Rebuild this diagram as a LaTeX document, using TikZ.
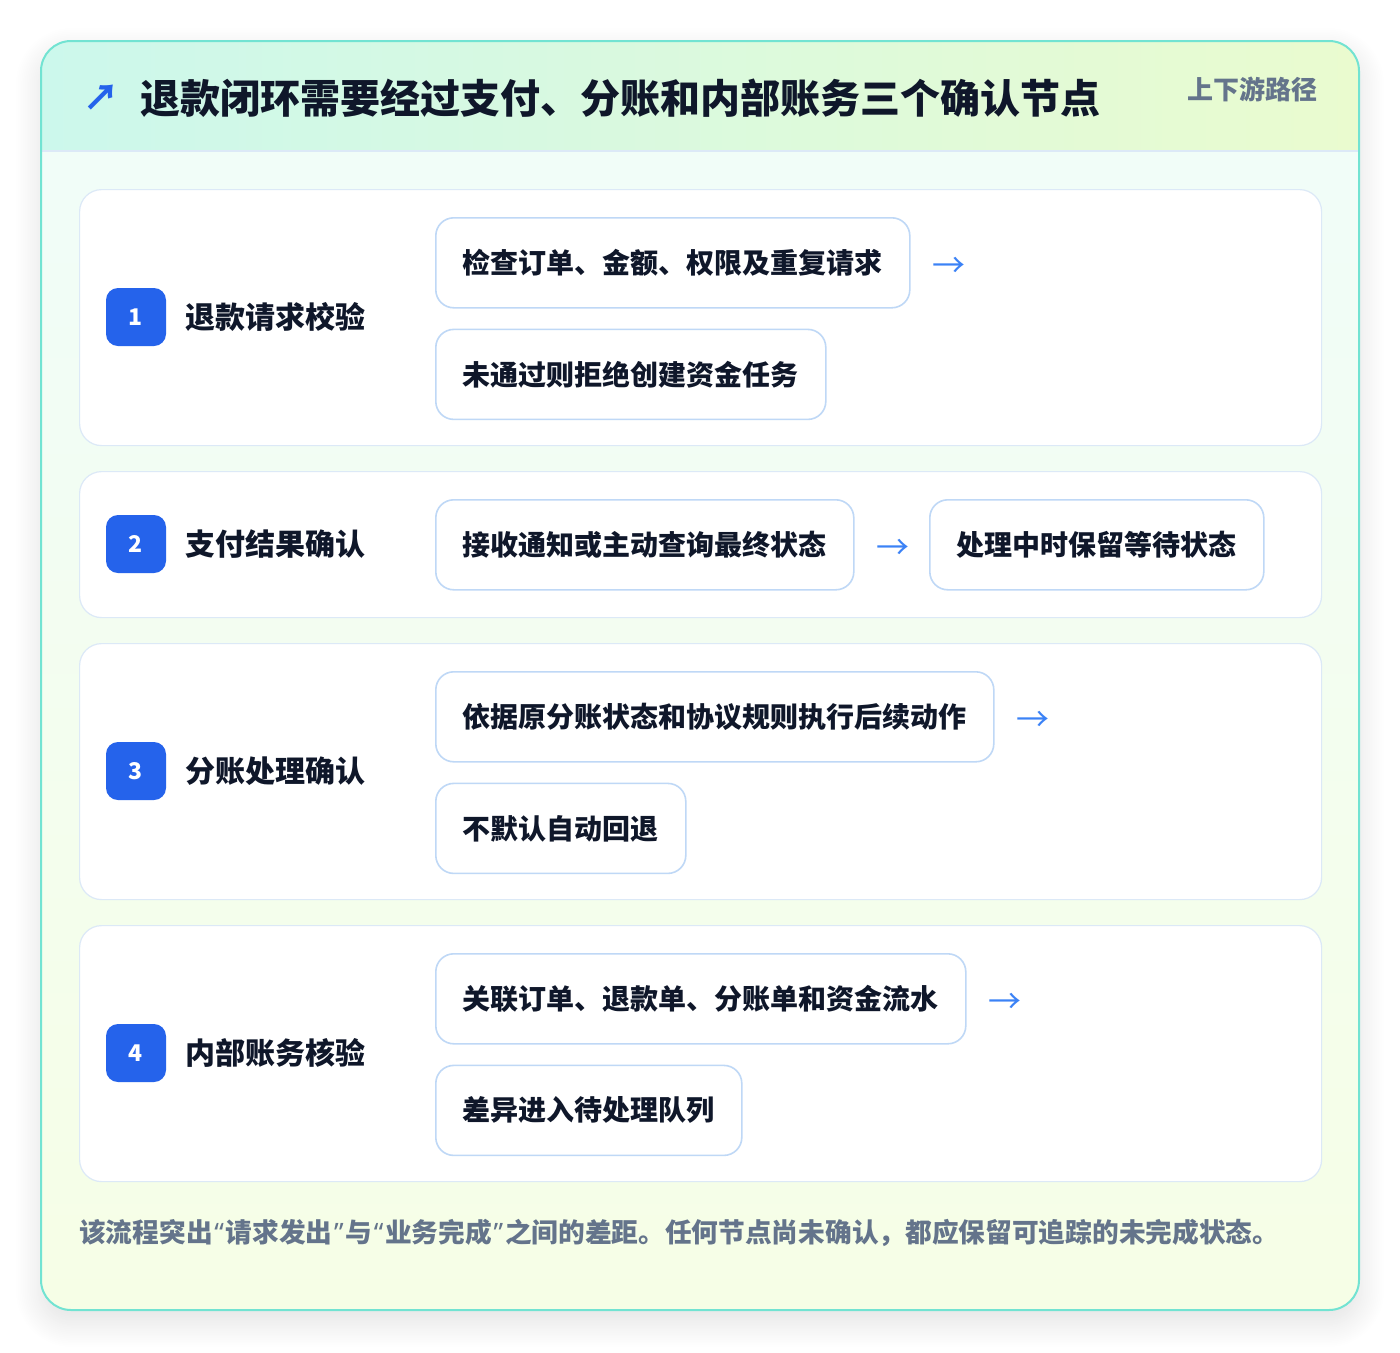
\documentclass[tikz,border=0pt]{standalone}
\usepackage{fontspec}
\newfontfamily\cjk{Noto Sans CJK SC}
\newfontfamily\latin{Noto Sans}
\usetikzlibrary{positioning}
\usetikzlibrary{shadows.blur}
\definecolor{cardline}{HTML}{72E3D2}
\definecolor{headleft}{HTML}{CCF8EC}
\definecolor{headright}{HTML}{EAFBCF}
\definecolor{bodytop}{HTML}{F0FDFA}
\definecolor{bodybottom}{HTML}{F6FEE6}
\definecolor{rowline}{HTML}{DCE9F7}
\definecolor{boxline}{HTML}{BFD8F6}
\definecolor{badgeblue}{HTML}{2563EB}
\definecolor{arrowblue}{HTML}{3B82F6}
\definecolor{ink}{HTML}{0F172A}
\definecolor{slate}{HTML}{64748B}

\begin{document}
\begin{tikzpicture}[x=1pt,y=-1pt,node distance=20pt,
	rowcard/.style={draw=rowline,line width=1.2pt,fill=white,rounded corners=22pt,minimum width=1242pt,anchor=north west,inner sep=0pt},
	badge/.style={fill=badgeblue,rounded corners=12pt,minimum width=60pt,minimum height=58pt,inner sep=0pt,text=white,font=\cjk\bfseries\fontsize{23}{27}\selectfont},
	steptitle/.style={anchor=west,inner sep=0pt,text=ink,font=\cjk\bfseries\fontsize{30}{36}\selectfont},
	subbox/.style={draw=boxline,line width=1.6pt,fill=white,rounded corners=18pt,minimum height=90pt,inner xsep=27pt,inner ysep=0pt,text=ink,font=\cjk\bfseries\fontsize{28}{34}\selectfont},
	flow/.style={inner sep=0pt,yshift=-5pt,text=arrowblue,font=\cjk\fontsize{33}{36}\selectfont},
	hint/.style={inner sep=0pt,text=slate,font=\cjk\bfseries\fontsize{26}{32}\selectfont}]
		\useasboundingbox (0,0) rectangle (1400,1352);
		\path[blur shadow={shadow xshift=0pt,shadow yshift=-12pt,shadow blur radius=26pt,shadow blur steps=30,shadow opacity=12},top color=bodytop,bottom color=bodybottom,rounded corners=30pt] (41,41) rectangle (1359,1310);
		\begin{scope}
			\clip[rounded corners=30pt] (41,41) rectangle (1359,1310);
			\fill[left color=headleft,right color=headright] (41,41) rectangle (1359,151);
		\end{scope}
		\draw[rowline,line width=1.2pt] (41,151) -- (1359,151);
		\draw[cardline,line width=2pt,rounded corners=30pt] (41,41) rectangle (1359,1310);

		\node (icon) at (101,98) [inner sep=0pt,text=badgeblue,font=\cjk\bfseries\fontsize{36}{40}\selectfont] {↗};
		\node (title) at (140,98) [anchor=west,inner sep=0pt,text=ink,font=\cjk\bfseries\fontsize{40}{48}\selectfont] {退款闭环需要经过支付、分账和内部账务三个确认节点};
		\node (route) at (1318,89) [hint,anchor=east] {上下游路径};

		\node (row1) at (79,189) [rowcard,minimum height=256pt] {};
		\node (num1) at (136,317) [badge] {1};
		\node (ttl1) [steptitle,right=19pt of num1] {退款请求校验};
		\node (c11) at (435,217) [subbox,anchor=north west] {检查订单、金额、权限及重复请求};
		\node (c12) [subbox,below=20pt of c11.south west,anchor=north west] {未通过则拒绝创建资金任务};
		\node (a1) [flow,right=22pt of c11] {→};

		\node (row2) at (79,471) [rowcard,minimum height=146pt] {};
		\node (num2) at (136,544) [badge] {2};
		\node (ttl2) [steptitle,right=19pt of num2] {支付结果确认};
		\node (c21) at (435,499) [subbox,anchor=north west] {接收通知或主动查询最终状态};
		\node (a2) [flow,right=22pt of c21] {→};
		\node (c22) at (929,499) [subbox,anchor=north west] {处理中时保留等待状态};

		\node (row3) at (79,643) [rowcard,minimum height=256pt] {};
		\node (num3) at (136,771) [badge] {3};
		\node (ttl3) [steptitle,right=19pt of num3] {分账处理确认};
		\node (c31) at (435,671) [subbox,anchor=north west] {依据原分账状态和协议规则执行后续动作};
		\node (c32) [subbox,below=20pt of c31.south west,anchor=north west] {不默认自动回退};
		\node (a3) [flow,right=22pt of c31] {→};

		\node (row4) at (79,925) [rowcard,minimum height=256pt] {};
		\node (num4) at (136,1053) [badge] {4};
		\node (ttl4) [steptitle,right=19pt of num4] {内部账务核验};
		\node (c41) at (435,953) [subbox,anchor=north west] {关联订单、退款单、分账单和资金流水};
		\node (c42) [subbox,below=20pt of c41.south west,anchor=north west] {差异进入待处理队列};
		\node (a4) [flow,right=22pt of c41] {→};

		\node (note) at (79,1233) [hint,anchor=west,font=\cjk\bfseries\fontsize{26.7}{32}\selectfont] {该流程突出{\latin\bfseries\makebox[13pt]{“}}请求发出{\latin\bfseries\makebox[13pt]{”}}与{\latin\bfseries\makebox[13pt]{“}}业务完成{\latin\bfseries\makebox[13pt]{”}}之间的差距。任何节点尚未确认，都应保留可追踪的未完成状态。};
	\end{tikzpicture}
\end{document}
